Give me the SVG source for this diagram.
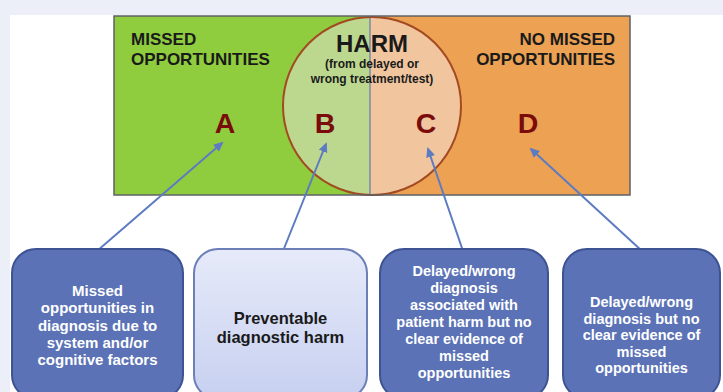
<svg xmlns="http://www.w3.org/2000/svg" width="723" height="392" viewBox="0 0 723 392">
<defs>
<style>
.hd{font-family:"Liberation Sans",Arial,sans-serif;font-weight:bold;fill:#1a1a1a}
.lt{font-family:"Liberation Sans",Arial,sans-serif;font-weight:bold;fill:#7a0c0c;font-size:28.5px;text-anchor:middle}
.bx{stroke:#3d5394;stroke-width:2;fill:#5b72b6}
.wt{font-family:"Liberation Sans",Arial,sans-serif;font-weight:bold;fill:#ffffff;text-anchor:middle}
.cn{stroke:#5d7bc2;stroke-width:2;fill:none;marker-end:url(#ah)}
</style>
<linearGradient id="lg" x1="0" y1="0" x2="0" y2="1">
<stop offset="0" stop-color="#e6eaf9"/>
<stop offset="1" stop-color="#c7d0f0"/>
</linearGradient>
<clipPath id="cl"><rect x="114" y="16" width="256" height="179"/></clipPath>
<clipPath id="cr"><rect x="370" y="16" width="260" height="179"/></clipPath>
<marker id="ah" markerWidth="10" markerHeight="10" refX="8" refY="5" orient="auto" markerUnits="userSpaceOnUse">
<path d="M0,0.5 L10,5 L0,9.5 Z" fill="#5d7bc2"/>
</marker>
</defs>
<rect x="0" y="0" width="723" height="392" fill="#eceff7"/>
<rect x="10" y="15" width="713" height="377" fill="#ffffff"/>
<g id="venn">
<rect x="114" y="16" width="256" height="179" fill="#8fcd3e"/>
<rect x="370" y="16" width="260" height="179" fill="#eca153"/>
<circle cx="372" cy="106" r="89" fill="#bcd88f" clip-path="url(#cl)"/>
<circle cx="372" cy="106" r="89" fill="#f1c69f" clip-path="url(#cr)"/>
<line x1="370" y1="16" x2="370" y2="195" stroke="#7a8aa8" stroke-width="1.5"/>
<circle cx="372" cy="106" r="89" fill="none" stroke="#a34a22" stroke-width="2"/>
<rect x="114" y="16" width="516" height="179" fill="none" stroke="#5e6066" stroke-width="1.5"/>
<text class="hd" x="131" y="45" font-size="17">MISSED</text>
<text class="hd" x="131" y="65" font-size="17">OPPORTUNITIES</text>
<text class="hd" x="615" y="45" font-size="17" text-anchor="end">NO MISSED</text>
<text class="hd" x="615" y="65" font-size="17" text-anchor="end">OPPORTUNITIES</text>
<text class="hd" x="372" y="52" font-size="24" text-anchor="middle">HARM</text>
<text class="hd" x="372" y="68" font-size="12" text-anchor="middle">(from delayed or</text>
<text class="hd" x="372" y="83" font-size="12" text-anchor="middle">wrong treatment/test)</text>
<text class="lt" x="225" y="133">A</text>
<text class="lt" x="325" y="133">B</text>
<text class="lt" x="426" y="133">C</text>
<text class="lt" x="528" y="133">D</text>
</g>
<g id="connectors">
<line class="cn" x1="97" y1="251" x2="222" y2="143"/>
<line class="cn" x1="283" y1="251" x2="326" y2="144"/>
<line class="cn" x1="463" y1="251" x2="428" y2="149"/>
<line class="cn" x1="642" y1="251" x2="531" y2="149"/>
</g>
<g id="box-a">
<rect class="bx" x="12" y="249" width="171" height="150" rx="24"/>
<text class="wt" font-size="15" x="97.5" y="296">Missed</text>
<text class="wt" font-size="15" x="97.5" y="313.3">opportunities in</text>
<text class="wt" font-size="15" x="97.5" y="330.5">diagnosis due to</text>
<text class="wt" font-size="15" x="97.5" y="347.8">system and/or</text>
<text class="wt" font-size="15" x="97.5" y="365">cognitive factors</text>
</g>
<g id="box-b">
<rect x="194" y="249" width="173" height="150" rx="24" fill="url(#lg)" stroke="#6c7fb6" stroke-width="2"/>
<text class="hd" font-size="16.5" text-anchor="middle" x="280.5" y="324">Preventable</text>
<text class="hd" font-size="16.5" text-anchor="middle" x="280.5" y="343">diagnostic harm</text>
</g>
<g id="box-c">
<rect class="bx" x="380" y="249" width="168" height="150" rx="24"/>
<text class="wt" font-size="14.5" x="464" y="276">Delayed/wrong</text>
<text class="wt" font-size="14.5" x="464" y="293">diagnosis</text>
<text class="wt" font-size="14.5" x="464" y="310">associated with</text>
<text class="wt" font-size="14.5" x="464" y="327">patient harm but no</text>
<text class="wt" font-size="14.5" x="464" y="344">clear evidence of</text>
<text class="wt" font-size="14.5" x="464" y="361">missed</text>
<text class="wt" font-size="14.5" x="464" y="378">opportunities</text>
</g>
<g id="box-d">
<rect class="bx" x="563" y="249" width="157" height="150" rx="24"/>
<text class="wt" font-size="14.5" x="641.5" y="307">Delayed/wrong</text>
<text class="wt" font-size="14.5" x="641.5" y="323.5">diagnosis but no</text>
<text class="wt" font-size="14.5" x="641.5" y="340">clear evidence of</text>
<text class="wt" font-size="14.5" x="641.5" y="356.5">missed</text>
<text class="wt" font-size="14.5" x="641.5" y="373">opportunities</text>
</g>
</svg>
